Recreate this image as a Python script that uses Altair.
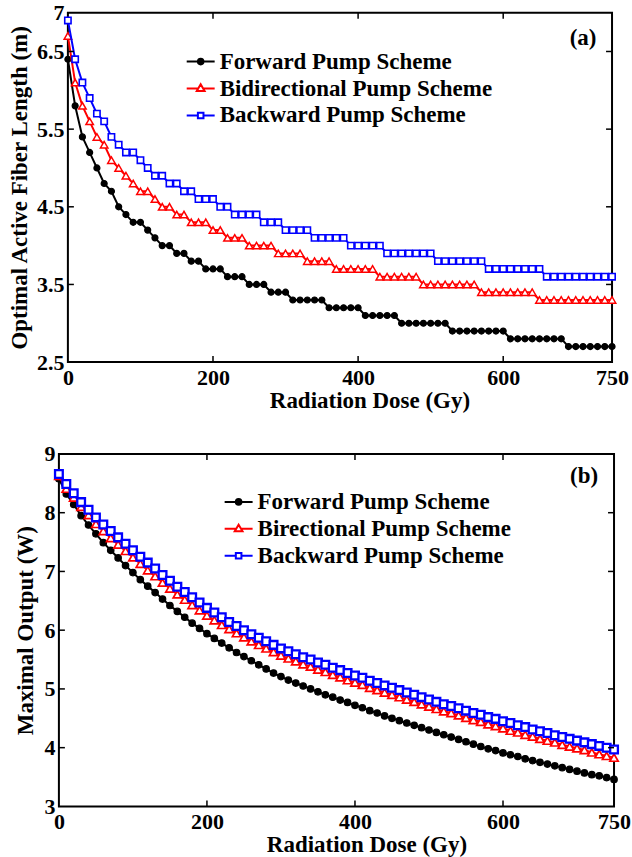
import altair as alt
import pandas as pd

# ---------------- data ----------------
DOSE = list(range(0, 751, 10))

SERIES_A = ["Forward Pump Scheme", "Bidirectional Pump Scheme", "Backward Pump Scheme"]
SERIES_B = ["Forward Pump Scheme", "Birectional Pump Scheme", "Backward Pump Scheme"]

# (a) optimal active fiber length (m)
LEN_FORWARD = [
    6.4, 5.8, 5.4, 5.2, 5.0, 4.8, 4.7, 4.5, 4.4, 4.3,
    4.3, 4.2, 4.1, 4.0, 4.0, 3.9, 3.9, 3.8, 3.8, 3.7,
    3.7, 3.7, 3.6, 3.6, 3.6, 3.5, 3.5, 3.5, 3.4, 3.4,
    3.4, 3.3, 3.3, 3.3, 3.3, 3.3, 3.2, 3.2, 3.2, 3.2,
    3.2, 3.1, 3.1, 3.1, 3.1, 3.1, 3.0, 3.0, 3.0, 3.0,
    3.0, 3.0, 3.0, 2.9, 2.9, 2.9, 2.9, 2.9, 2.9, 2.9,
    2.9, 2.8, 2.8, 2.8, 2.8, 2.8, 2.8, 2.8, 2.8, 2.7,
    2.7, 2.7, 2.7, 2.7, 2.7, 2.7,
]
LEN_BIDIR = [
    6.7, 6.1, 5.8, 5.6, 5.4, 5.3, 5.1, 5.0, 4.9, 4.8,
    4.7, 4.7, 4.6, 4.5, 4.5, 4.4, 4.4, 4.3, 4.3, 4.3,
    4.2, 4.2, 4.1, 4.1, 4.1, 4.0, 4.0, 4.0, 4.0, 3.9,
    3.9, 3.9, 3.9, 3.8, 3.8, 3.8, 3.8, 3.7, 3.7, 3.7,
    3.7, 3.7, 3.7, 3.6, 3.6, 3.6, 3.6, 3.6, 3.6, 3.5,
    3.5, 3.5, 3.5, 3.5, 3.5, 3.5, 3.5, 3.4, 3.4, 3.4,
    3.4, 3.4, 3.4, 3.4, 3.4, 3.3, 3.3, 3.3, 3.3, 3.3,
    3.3, 3.3, 3.3, 3.3, 3.3, 3.3,
]
LEN_BACKWARD = [
    6.9, 6.4, 6.1, 5.9, 5.7, 5.6, 5.4, 5.3, 5.2, 5.2,
    5.1, 5.0, 4.9, 4.9, 4.8, 4.8, 4.7, 4.7, 4.6, 4.6,
    4.6, 4.5, 4.5, 4.4, 4.4, 4.4, 4.4, 4.3, 4.3, 4.3,
    4.2, 4.2, 4.2, 4.2, 4.1, 4.1, 4.1, 4.1, 4.1, 4.0,
    4.0, 4.0, 4.0, 4.0, 3.9, 3.9, 3.9, 3.9, 3.9, 3.9,
    3.9, 3.8, 3.8, 3.8, 3.8, 3.8, 3.8, 3.8, 3.7, 3.7,
    3.7, 3.7, 3.7, 3.7, 3.7, 3.7, 3.6, 3.6, 3.6, 3.6,
    3.6, 3.6, 3.6, 3.6, 3.6, 3.6,
]

# (b) maximal output (W)
OUT_FORWARD = [
    8.58, 8.32, 8.14, 7.95, 7.79, 7.64, 7.49, 7.36, 7.23, 7.10,
    6.98, 6.86, 6.75, 6.64, 6.53, 6.42, 6.32, 6.22, 6.12, 6.03,
    5.94, 5.86, 5.78, 5.70, 5.62, 5.55, 5.48, 5.41, 5.34, 5.27,
    5.21, 5.15, 5.10, 5.05, 5.00, 4.95, 4.90, 4.86, 4.81, 4.77,
    4.72, 4.68, 4.63, 4.59, 4.54, 4.50, 4.46, 4.42, 4.38, 4.34,
    4.30, 4.26, 4.22, 4.18, 4.14, 4.10, 4.06, 4.02, 3.98, 3.95,
    3.91, 3.88, 3.85, 3.81, 3.78, 3.75, 3.72, 3.69, 3.66, 3.63,
    3.60, 3.57, 3.54, 3.52, 3.49, 3.46,
]
OUT_BIDIR = [
    8.63, 8.41, 8.26, 8.10, 7.96, 7.81, 7.69, 7.57, 7.46, 7.35,
    7.24, 7.13, 7.02, 6.92, 6.81, 6.71, 6.61, 6.52, 6.43, 6.34,
    6.25, 6.17, 6.09, 6.02, 5.95, 5.88, 5.81, 5.75, 5.69, 5.63,
    5.57, 5.52, 5.47, 5.42, 5.38, 5.33, 5.29, 5.24, 5.20, 5.15,
    5.11, 5.07, 5.02, 4.98, 4.94, 4.90, 4.86, 4.82, 4.78, 4.74,
    4.70, 4.66, 4.62, 4.59, 4.55, 4.51, 4.47, 4.44, 4.40, 4.37,
    4.33, 4.29, 4.26, 4.22, 4.19, 4.15, 4.12, 4.09, 4.05, 4.02,
    3.99, 3.96, 3.92, 3.89, 3.86, 3.83,
]
OUT_BACKWARD = [
    8.66, 8.49, 8.33, 8.18, 8.05, 7.92, 7.80, 7.69, 7.58, 7.47,
    7.36, 7.25, 7.15, 7.05, 6.94, 6.84, 6.74, 6.65, 6.56, 6.47,
    6.38, 6.30, 6.22, 6.14, 6.07, 6.00, 5.93, 5.87, 5.81, 5.75,
    5.69, 5.64, 5.59, 5.54, 5.50, 5.45, 5.41, 5.36, 5.32, 5.27,
    5.23, 5.19, 5.14, 5.10, 5.06, 5.02, 4.98, 4.94, 4.90, 4.86,
    4.82, 4.78, 4.74, 4.71, 4.67, 4.63, 4.59, 4.56, 4.52, 4.49,
    4.45, 4.42, 4.38, 4.35, 4.31, 4.28, 4.25, 4.21, 4.18, 4.15,
    4.12, 4.09, 4.06, 4.03, 4.00, 3.97,
]

X_TICKS = [0, 200, 400, 600, 750]
X_INNER = [200, 400, 600]
Y_TICKS_A = [2.5, 3.5, 4.5, 5.5, 6.5, 7]
Y_INNER_A = [3.5, 4.5, 5.5, 6.5]
Y_TICKS_B = [3, 4, 5, 6, 7, 8, 9]
Y_INNER_B = [4, 5, 6, 7, 8]

# ---------------- style ----------------
FONT = "Liberation Serif"
COLORS = ["#000000", "#ff0000", "#0000ff"]
FILLS = ["#000000", "#ffffff", "#ffffff"]
SHAPES = ["circle", "triangle-up", "square"]
LEGEND_PATHS = [
    "M-1,0L1,0M0.2,0A0.2,0.2,0,1,1,-0.2,0A0.2,0.2,0,1,1,0.2,0Z",
    "M-1,0L-0.17,0M0.17,0L1,0M0,-0.3L0.28,0.18L-0.28,0.18Z",
    "M-1,0L-0.2,0M0.2,0L1,0M-0.2,-0.2L0.2,-0.2L0.2,0.2L-0.2,0.2Z",
]
TICK_LEN = 6
INDEP = dict(stroke="independent", fill="independent", shape="independent")


def panel(names, series_values, ydomain, yticks, yinner, yfmt, ytitle, tag,
          width, height, legend_x, legend_y, tag_x, tag_y, title_x,
          y_title_pad, sizes, stroke_ws):
    xscale = alt.Scale(domain=[0, 750], nice=False, zero=False)
    yscale = alt.Scale(domain=ydomain, nice=False, zero=False)
    xaxis = alt.Axis(values=X_TICKS, title="Radiation Dose (Gy)", format="d",
                     labelPadding=5, titleX=title_x, titleY=45,
                     titleBaseline="alphabetic", titleAnchor="start",
                     titleAlign="center")
    yaxis = alt.Axis(values=yticks, title=ytitle, format=yfmt,
                     labelPadding=4, titlePadding=y_title_pad)

    def X(field):
        return alt.X(field, scale=xscale, axis=xaxis)

    def Y(field):
        return alt.Y(field, scale=yscale, axis=yaxis)

    layers = []
    for i, (name, vals) in enumerate(zip(names, series_values)):
        df = pd.DataFrame({"dose": DOSE, "value": vals})
        base = alt.Chart(df).encode(x=X("dose:Q"), y=Y("value:Q"))
        layers.append(base.mark_line(color=COLORS[i], strokeWidth=2))
        layers.append(base.mark_point(shape=SHAPES[i], size=sizes[i], filled=True,
                                      fill=FILLS[i], stroke=COLORS[i],
                                      strokeWidth=stroke_ws[i], opacity=1))

    # inward ticks on all four sides
    xt = pd.DataFrame({"dose": X_INNER})
    yt = pd.DataFrame({"value": yinner})
    rule = dict(color="black", strokeWidth=1.5)
    layers.append(alt.Chart(xt).mark_rule(**rule).encode(
        x=X("dose:Q"), y=alt.value(height), y2=alt.value(height - TICK_LEN)))
    layers.append(alt.Chart(xt).mark_rule(**rule).encode(
        x=X("dose:Q"), y=alt.value(0), y2=alt.value(TICK_LEN)))
    layers.append(alt.Chart(yt).mark_rule(**rule).encode(
        y=Y("value:Q"), x=alt.value(0), x2=alt.value(TICK_LEN)))
    layers.append(alt.Chart(yt).mark_rule(**rule).encode(
        y=Y("value:Q"), x=alt.value(width - TICK_LEN), x2=alt.value(width)))

    # legend (invisible carrier layer)
    leg = alt.Legend(orient="none", legendX=legend_x, legendY=legend_y, title=None,
                     symbolSize=784, symbolStrokeWidth=2, symbolOpacity=1,
                     labelFont=FONT, labelFontWeight="bold", labelFontSize=23,
                     labelColor="black", labelOffset=4, rowPadding=0,
                     labelLimit=400)
    ldf = pd.DataFrame({"series": names})
    layers.append(alt.Chart(ldf).mark_point(opacity=0).encode(
        x=alt.value(10), y=alt.value(10),
        stroke=alt.Stroke("series:N", scale=alt.Scale(domain=names, range=COLORS), legend=leg),
        fill=alt.Fill("series:N", scale=alt.Scale(domain=names, range=FILLS), legend=leg),
        shape=alt.Shape("series:N", scale=alt.Scale(domain=names, range=LEGEND_PATHS), legend=leg),
    ))

    # panel tag
    tdf = pd.DataFrame({"tag": [tag]})
    layers.append(alt.Chart(tdf).mark_text(font=FONT, fontWeight="bold", fontSize=23,
                                           color="black").encode(
        text="tag:N", x=alt.value(tag_x), y=alt.value(tag_y)))

    return alt.layer(*layers).properties(width=width, height=height)


def spacer(w):
    return alt.Chart(pd.DataFrame({"s": [0]})).mark_point(opacity=0, size=1).encode(
        x=alt.value(w / 2), y=alt.value(0)
    ).properties(width=w, height=1, view=alt.ViewBackground(stroke="transparent"))


top = panel(SERIES_A, [LEN_FORWARD, LEN_BIDIR, LEN_BACKWARD], [2.5, 7], Y_TICKS_A,
            Y_INNER_A, ".1~f", "Optimal Active Fiber Length (m)", "(a)",
            545, 350, 118, 34, 516, 25, 302, 5,
            [36, 56, 40], [1.2, 1.5, 1.6])
bottom = panel(SERIES_B, [OUT_FORWARD, OUT_BIDIR, OUT_BACKWARD], [3, 9], Y_TICKS_B,
               Y_INNER_B, "d", "Maximal Output (W)", "(b)",
               556, 353, 165, 33, 526, 22, 308, 6,
               [42, 70, 60], [1.2, 1.7, 2.3])

row_top = alt.hconcat(spacer(1), top, spacing=0).resolve_scale(**INDEP)
row_bottom = alt.hconcat(spacer(8), bottom, spacing=0).resolve_scale(**INDEP)

chart = alt.vconcat(row_top, row_bottom, spacing=29).resolve_scale(
    **INDEP
).properties(
    padding={"left": 4, "top": 0, "right": 0, "bottom": 0}
).configure_view(
    stroke="black", strokeWidth=2
).configure_axis(
    labelFont=FONT, labelFontWeight="bold", labelFontSize=22, labelColor="black",
    titleFont=FONT, titleFontWeight="bold", titleFontSize=23, titleColor="black",
    domain=False, ticks=False, grid=False, labelFlush=False
)

chart.save("out.html", embed_options={"renderer": "svg", "actions": False})
